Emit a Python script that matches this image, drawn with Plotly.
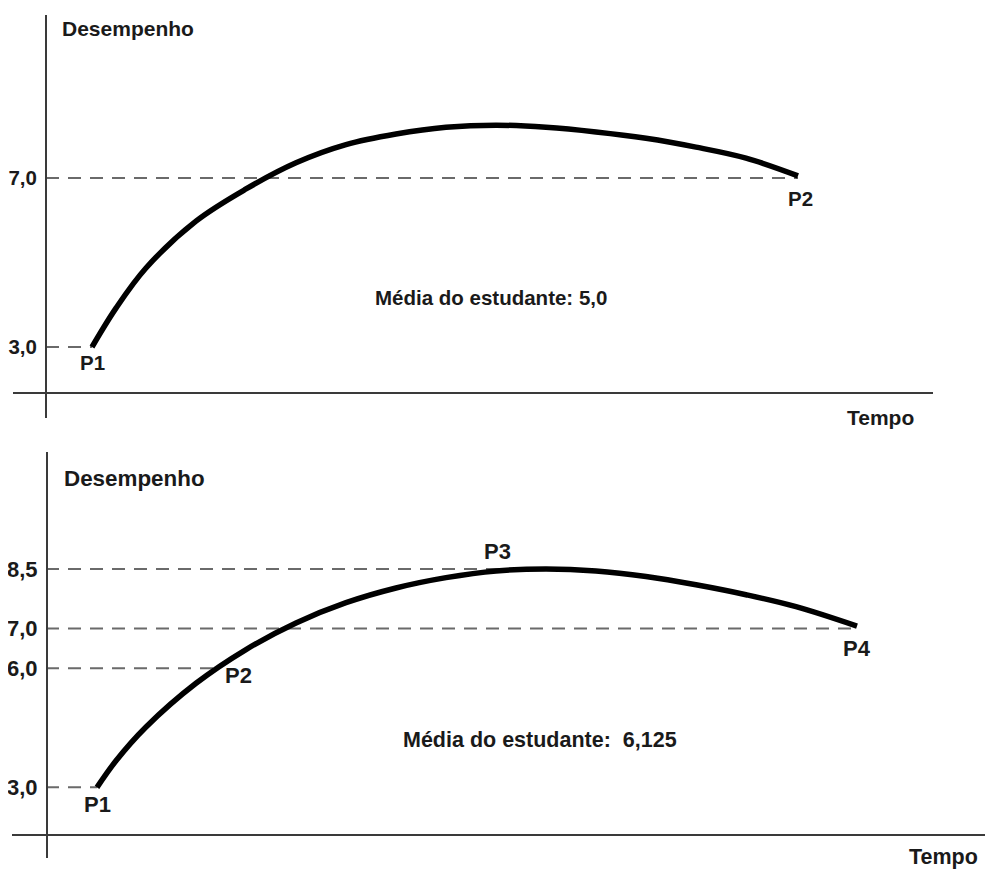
import plotly.graph_objects as go

# ---------------- data ----------------
# Top chart: student with average 5,0
top_tempo = [4.6, 7, 10, 15, 20, 25, 30, 35, 40, 45, 50, 55, 60, 65, 70, 75.2]
top_desempenho = [3.0, 3.92, 4.87, 5.98, 6.74, 7.36, 7.79, 8.04, 8.20, 8.25, 8.20,
                  8.09, 7.94, 7.73, 7.47, 7.05]
top_points = ["P1", "P2"]
top_point_tempo = [4.6, 75.2]
top_point_value = [3.0, 7.0]
top_ticks = [3.0, 7.0]
top_ticktext = ["3,0", "7,0"]

# Bottom chart: student with average 6,125
bottom_tempo = [5.1, 7, 10, 15, 20, 25, 30, 35, 40, 45, 50, 55, 60, 65, 70, 75, 81.1]
bottom_desempenho = [3.0, 3.67, 4.52, 5.62, 6.47, 7.14, 7.65, 8.02, 8.28, 8.45, 8.5,
                     8.45, 8.31, 8.10, 7.85, 7.55, 7.06]
bottom_points = ["P1", "P2", "P3", "P4"]
bottom_point_tempo = [5.1, 17.4, 50, 81.1]
bottom_point_value = [3.0, 6.0, 8.5, 7.0]
bottom_ticks = [3.0, 6.0, 7.0, 8.5]
bottom_ticktext = ["3,0", "6,0", "7,0", "8,5"]

top_media = "Média do estudante: 5,0"
bottom_media = "Média do estudante:  6,125"

# ---------------- figure ----------------
# the page body has an 8px margin; the figure covers the window from (8, 8)
OFF = 8
FW, FH = 993 - OFF, 869 - OFF
FONT = "Arial, Liberation Sans, sans-serif"
TXT = "#1a1a1a"
DASH = dict(color="#6a6a6a", width=2, dash="13px,9px")


def fx(xr):
    return (xr - OFF) / FW


def fy(yr):
    return 1 - (yr - OFF) / FH


fig = go.Figure()

# dashed guide lines (from the y axis to each point)
for t, v in zip(top_point_tempo, top_point_value):
    fig.add_trace(go.Scatter(x=[0, t], y=[v, v], mode="lines", line=DASH,
                             xaxis="x", yaxis="y", hoverinfo="skip", showlegend=False))
for t, v in zip(bottom_point_tempo, bottom_point_value):
    fig.add_trace(go.Scatter(x=[0, t], y=[v, v], mode="lines", line=DASH,
                             xaxis="x2", yaxis="y2", hoverinfo="skip", showlegend=False))

# performance curves
fig.add_trace(go.Scatter(x=top_tempo, y=top_desempenho, mode="lines",
                         line=dict(color="black", width=5.5, shape="spline", smoothing=1.0),
                         xaxis="x", yaxis="y", showlegend=False))
fig.add_trace(go.Scatter(x=bottom_tempo, y=bottom_desempenho, mode="lines",
                         line=dict(color="black", width=5.5, shape="spline", smoothing=1.0),
                         xaxis="x2", yaxis="y2", showlegend=False))

annotations = []
TOP_SIZE = 20.5
BOT_SIZE = 22
# point labels
top_shift = [(0, -15), (2, -20)]
for name, t, v, (dx, dy) in zip(top_points, top_point_tempo, top_point_value, top_shift):
    annotations.append(dict(x=t, y=v, xref="x", yref="y", text=f"<b>{name}</b>",
                            showarrow=False, xshift=dx, yshift=dy,
                            font=dict(size=TOP_SIZE, family=FONT, color=TXT)))
bottom_shift = [(0, -17), (18, -7), (-49, 17), (0, -20)]
for name, t, v, (dx, dy) in zip(bottom_points, bottom_point_tempo, bottom_point_value, bottom_shift):
    annotations.append(dict(x=t, y=v, xref="x2", yref="y2", text=f"<b>{name}</b>",
                            showarrow=False, xshift=dx, yshift=dy,
                            font=dict(size=BOT_SIZE, family=FONT, color=TXT)))

# averages
annotations.append(dict(x=44.5, y=4.16, xref="x", yref="y", text=f"<b>{top_media}</b>",
                        showarrow=False, font=dict(size=TOP_SIZE, family=FONT, color=TXT)))
annotations.append(dict(x=49.4, y=4.19, xref="x2", yref="y2", text=f"<b>{bottom_media}</b>",
                        showarrow=False, font=dict(size=21.5, family=FONT, color=TXT)))

# axis captions
for (xp, yp, txt, anchor, size) in [
    (60, 28, "Desempenho", "left", 21),
    (880, 417, "Tempo", "center", 21),
    (62, 479, "Desempenho", "left", 22.4),
    (943, 857, "Tempo", "center", 21.5),
]:
    annotations.append(dict(x=fx(xp), y=fy(yp), xref="paper", yref="paper",
                            text=f"<b>{txt}</b>", xanchor=anchor, yanchor="middle",
                            showarrow=False, font=dict(size=size, family=FONT, color=TXT)))

AX = dict(showline=True, linecolor="#3a3a3a", linewidth=2, showgrid=False,
          zeroline=False, ticks="", fixedrange=True)

fig.update_layout(
    width=FW, height=FH,
    margin=dict(l=0, r=0, t=0, b=0),
    paper_bgcolor="white", plot_bgcolor="white",
    showlegend=False,
    xaxis=dict(domain=[fx(13), fx(933)], range=[-3.3, 88.7], anchor="free",
               position=fy(393), showticklabels=False, **AX),
    yaxis=dict(domain=[fy(418), fy(15)], range=[1.3195, 10.858], anchor="free",
               position=fx(46), tickvals=top_ticks, ticktext=top_ticktext,
               ticklabelstandoff=4,
               tickfont=dict(size=TOP_SIZE, family=FONT, color=TXT, weight="bold"), **AX),
    xaxis2=dict(domain=[fx(12), 1.0], range=[-3.4, 94.7], anchor="free",
                position=fy(835), showticklabels=False, **AX),
    yaxis2=dict(domain=[fy(858), fy(452)], range=[1.222, 11.443], anchor="free",
                position=fx(47), tickvals=bottom_ticks, ticktext=bottom_ticktext,
                ticklabelstandoff=4,
                tickfont=dict(size=BOT_SIZE, family=FONT, color=TXT, weight="bold"), **AX),
    annotations=annotations,
)

fig.write_html("out.html")
